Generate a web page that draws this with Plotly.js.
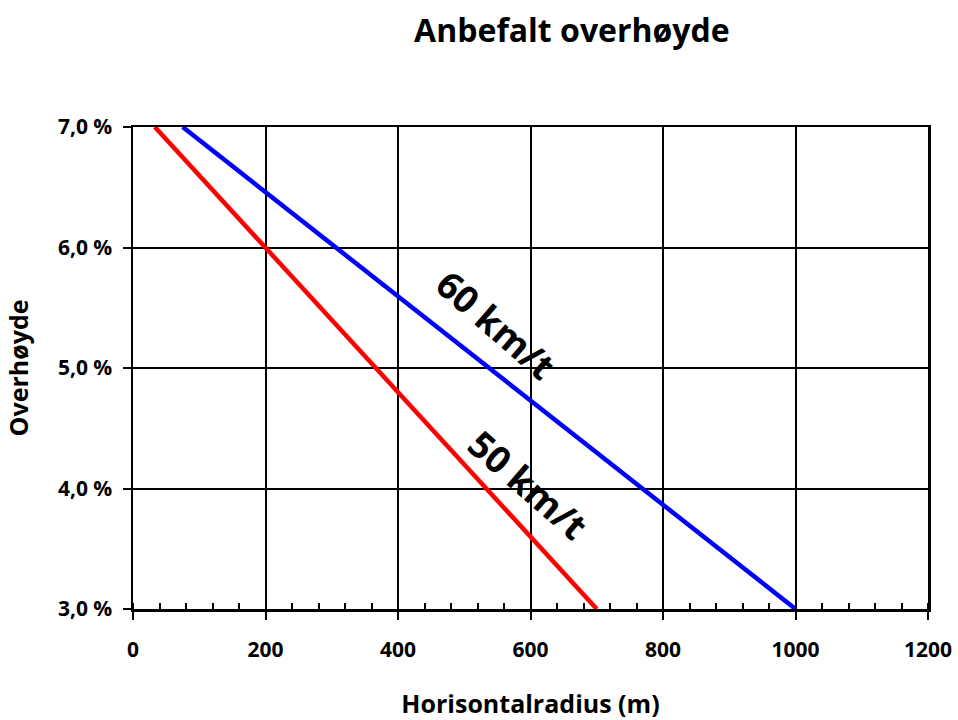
<!DOCTYPE html>
<html>
<head>
<meta charset="utf-8">
<script src="https://cdn.plot.ly/plotly-3.0.1.min.js"></script>
<style>html,body{margin:0;padding:0;background:#fff;}#chart{width:958px;height:720px;}</style>
</head>
<body>
<div id="chart"></div>
<script>
const chartTitle = "Anbefalt overhøyde";
const xTitle = "Horisontalradius (m)";
const yTitle = "Overhøyde";
const speed50Label = "50 km/t";
const speed60Label = "60 km/t";
const radius50 = [33, 200, 400, 600, 700];
const slope50 = [7.0, 6.0, 4.8, 3.6, 3.0];
const radius60 = [75, 200, 400, 600, 800, 1000];
const slope60 = [7.0, 6.46, 5.6, 4.73, 3.87, 3.0];
const xTickVals = [0, 200, 400, 600, 800, 1000, 1200];
const yTickVals = [3, 4, 5, 6, 7];
const yTickText = ["3,0 %", "4,0 %", "5,0 %", "6,0 %", "7,0 %"];

const font = "'Open Sans', 'Noto Sans', sans-serif";
const data = [
  {x: radius50, y: slope50, mode: 'lines', line: {color: '#ff0000', width: 4.5}, name: speed50Label, hoverinfo: 'skip'},
  {x: radius60, y: slope60, mode: 'lines', line: {color: '#0000ff', width: 4.5}, name: speed60Label, hoverinfo: 'skip'}
];
const layout = {
  width: 958, height: 720,
  margin: {l: 133, r: 30, t: 127, b: 111},
  paper_bgcolor: '#fff', plot_bgcolor: '#fff',
  showlegend: false,
  font: {family: font, color: '#000'},
  title: {text: '<b>' + chartTitle + '</b>', x: 0.597, xanchor: 'center', y: 0.957, yanchor: 'middle', font: {size: 32, family: font, color: '#000'}},
  xaxis: {
    range: [0, 1200], tickvals: xTickVals, ticktext: xTickVals.map(v => '<b>' + v + '</b>'),
    showgrid: true, gridcolor: '#000', gridwidth: 2,
    showline: true, linecolor: '#000', linewidth: 2.5, mirror: true,
    ticks: 'outside', ticklen: 8, tickwidth: 2, tickcolor: '#000',
    ticklabelstandoff: 12,
    tickfont: {size: 21, family: font, color: '#000'},
    minor: {dtick: 40, ticks: 'inside', ticklen: 6, tickwidth: 2, tickcolor: '#000', showgrid: false},
    zeroline: false,
    title: {text: '<b>' + xTitle + '</b>', font: {size: 25, family: font, color: '#000'}, standoff: 35}
  },
  yaxis: {
    range: [3, 7], tickvals: yTickVals, ticktext: yTickText.map(t => '<b>' + t + '</b>'),
    showgrid: true, gridcolor: '#000', gridwidth: 2,
    showline: true, linecolor: '#000', linewidth: 2.5, mirror: true,
    ticks: 'outside', ticklen: 8, tickwidth: 2, tickcolor: '#000',
    ticklabelstandoff: 6,
    tickfont: {size: 21, family: font, color: '#000'},
    zeroline: false,
    title: {text: '<b>' + yTitle + '</b>', font: {size: 25, family: font, color: '#000'}, standoff: 22}
  },
  annotations: [
    {x: 549, y: 5.36, xref: 'x', yref: 'y', text: '<b>' + speed60Label + '</b>', showarrow: false, textangle: 41, font: {size: 37, family: font, color: '#000'}},
    {x: 597, y: 4.03, xref: 'x', yref: 'y', text: '<b>' + speed50Label + '</b>', showarrow: false, textangle: 41, font: {size: 37, family: font, color: '#000'}}
  ]
};
Plotly.newPlot('chart', data, layout, {staticPlot: true, displayModeBar: false});
</script>
</body>
</html>
